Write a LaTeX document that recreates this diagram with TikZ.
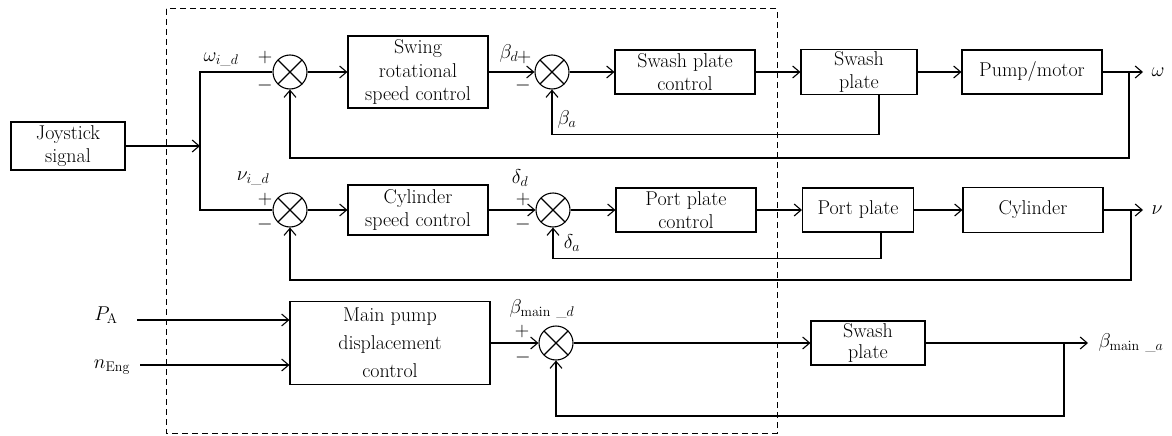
\RequirePackage{fix-cm}
\documentclass[tikz,border=0pt]{standalone}
\usepackage{amssymb}
\usepackage{amsmath}
\usetikzlibrary{positioning, arrows.meta}

\begin{document}
\begin{tikzpicture}[x=1pt, y=-1pt, >={Straight Barb[length=7pt, width=12pt]}, line width=1.1pt,
	font=\fontsize{20}{23.5}\selectfont,
	block/.style={draw, rectangle, align=center, inner sep=2pt, minimum width=140pt, minimum height=44pt},
	sum/.style={draw, circle, minimum size=34pt, inner sep=0pt,
		path picture={\draw (path picture bounding box.north west) -- (path picture bounding box.south east)
			(path picture bounding box.south west) -- (path picture bounding box.north east);}}]
			\useasboundingbox (0,0) rectangle (1172,436);

			% controller boundary
			\draw[line width=1pt, dash pattern=on 6pt off 4pt] (166,9) rectangle (777,433);

			\node[block, minimum width=114pt, minimum height=48pt] (joy) at (68,146) {Joystick\\signal};
			\coordinate (split) at (200,146);

			% swing loop
			\node[sum] (sum1) at (290,72) {};
			\node[block, minimum height=72pt] (swing)[right of = sum1, node distance=128pt] {Swing\\rotational\\speed control};
			\node[sum] (sum2)[right of = swing, node distance=134pt] {};
			\node[block] (spc)[right of = sum2, node distance=133pt] {Swash plate\\control};
			\node[block, minimum width=116pt, minimum height=45pt] (sw)[right of = spc, node distance=174pt] {Swash\\plate};
			\node[block] (pm)[right of = sw, node distance=173pt] {Pump/motor};
			\coordinate (wout) at (1143,72);
			\coordinate (wfb) at (1129,72);

			% cylinder loop
			\node[sum] (sum3) at (290,210) {};
			\node[block, minimum height=50pt] (csc)[right of = sum3, node distance=128pt] {Cylinder\\speed control};
			\node[sum] (sum4)[right of = csc, node distance=135pt] {};
			\node[block] (ppc)[right of = sum4, node distance=133pt] {Port plate\\control};
			\node[block, minimum width=111pt] (pp)[right of = ppc, node distance=172pt] {Port plate};
			\node[block, minimum height=45pt] (cyl)[right of = pp, node distance=175pt] {Cylinder};
			\coordinate (vout) at (1143,210);
			\coordinate (vfb) at (1131,210);

			% main pump loop
			\node[block, minimum width=200pt, minimum height=83pt, font=\fontsize{20}{28}\selectfont] (mp) at (390,343) {Main pump\\displacement\\control};
			\node[sum] (sum5)[right of = mp, node distance=166pt] {};
			\node[block, minimum width=114pt, font=\fontsize{20}{20.5}\selectfont] (sw2)[right of = sum5, node distance=312pt] {Swash\\plate};
			\coordinate (bout) at (1088,343);
			\coordinate (bfb) at (1064,343);
			\coordinate (pa) at (137,320);
			\coordinate (ne) at (140,365);

			% signals
			\draw[->] (joy) -- (split);
			\draw (split) |- (sum1.west);
			\draw (split) |- (sum3.west);

			\draw[->] (sum1) -- (swing);
			\draw[->] (swing) -- (sum2);
			\draw[->] (sum2) -- (spc);
			\draw[->] (spc) -- (sw);
			\draw[->] (sw) -- (pm);
			\draw[->] (pm) -- (wout);
			\draw[->] ([xshift=20pt]sw.south) -- ++(0,39) -| (sum2.south);
			\draw[->] (wfb) -- ++(0,86) -| (sum1.south);

			\draw[->] (sum3) -- (csc);
			\draw[->] (csc) -- (sum4);
			\draw[->] (sum4) -- (ppc);
			\draw[->] (ppc) -- (pp);
			\draw[->] (pp) -- (cyl);
			\draw[->] (cyl) -- (vout);
			\draw[->] ([xshift=23pt]pp.south) -- ++(0,26) -| (sum4.south);
			\draw[->] (vfb) -- ++(0,70) -| (sum3.south);

			\draw[->] (pa) -- (pa -| mp.west);
			\draw[->] (ne) -- (ne -| mp.west);
			\draw[->] (mp) -- (sum5);
			\draw[->] (sum5) -- (sw2);
			\draw[->] (sw2) -- (bout);
			\draw[->] (bfb) -- ++(0,73) -| (sum5.south);

			% labels
			\node (lwid) at (221,60) {$\omega_{i\_d}$};
			\node (lp1) at (265,58) {$+$};
			\node (lm1) at (265,85) {$-$};
			\node (lvid) at (253,179) {$\nu_{i\_d}$};
			\node (lp3) at (265,199) {$+$};
			\node (lm3) at (265,224) {$-$};
			\node (lbd) at (509,54) {$\beta_d$};
			\node (lp2) at (524,58) {$+$};
			\node (lm2) at (523,85) {$-$};
			\node (lba) at (567,119) {$\beta_a$};
			\node (ldd) at (520,178) {$\delta_d$};
			\node (lp4) at (523,199) {$+$};
			\node (lm4) at (523,224) {$-$};
			\node (lda) at (572,243) {$\delta_a$};
			\node (lbmd) at (542,309) {$\beta_{\mathrm{main}\ \_d}$};
			\node (lp5) at (522,331) {$+$};
			\node (lm5) at (523,357) {$-$};
			\node[right, inner sep=8pt] (lw) at (wout) {$\omega$};
			\node[right, inner sep=8pt] (lv) at (vout) {$\nu$};
			\node[right, inner sep=10pt] (lbma) at (bout) {$\beta_{\mathrm{main}\ \_a}$};
			\node (lpa) at (106,315) {$P_{\mathrm{A}}$};
			\node (lne) at (112,367) {$n_{\mathrm{Eng}}$};
		\end{tikzpicture}
\end{document}
